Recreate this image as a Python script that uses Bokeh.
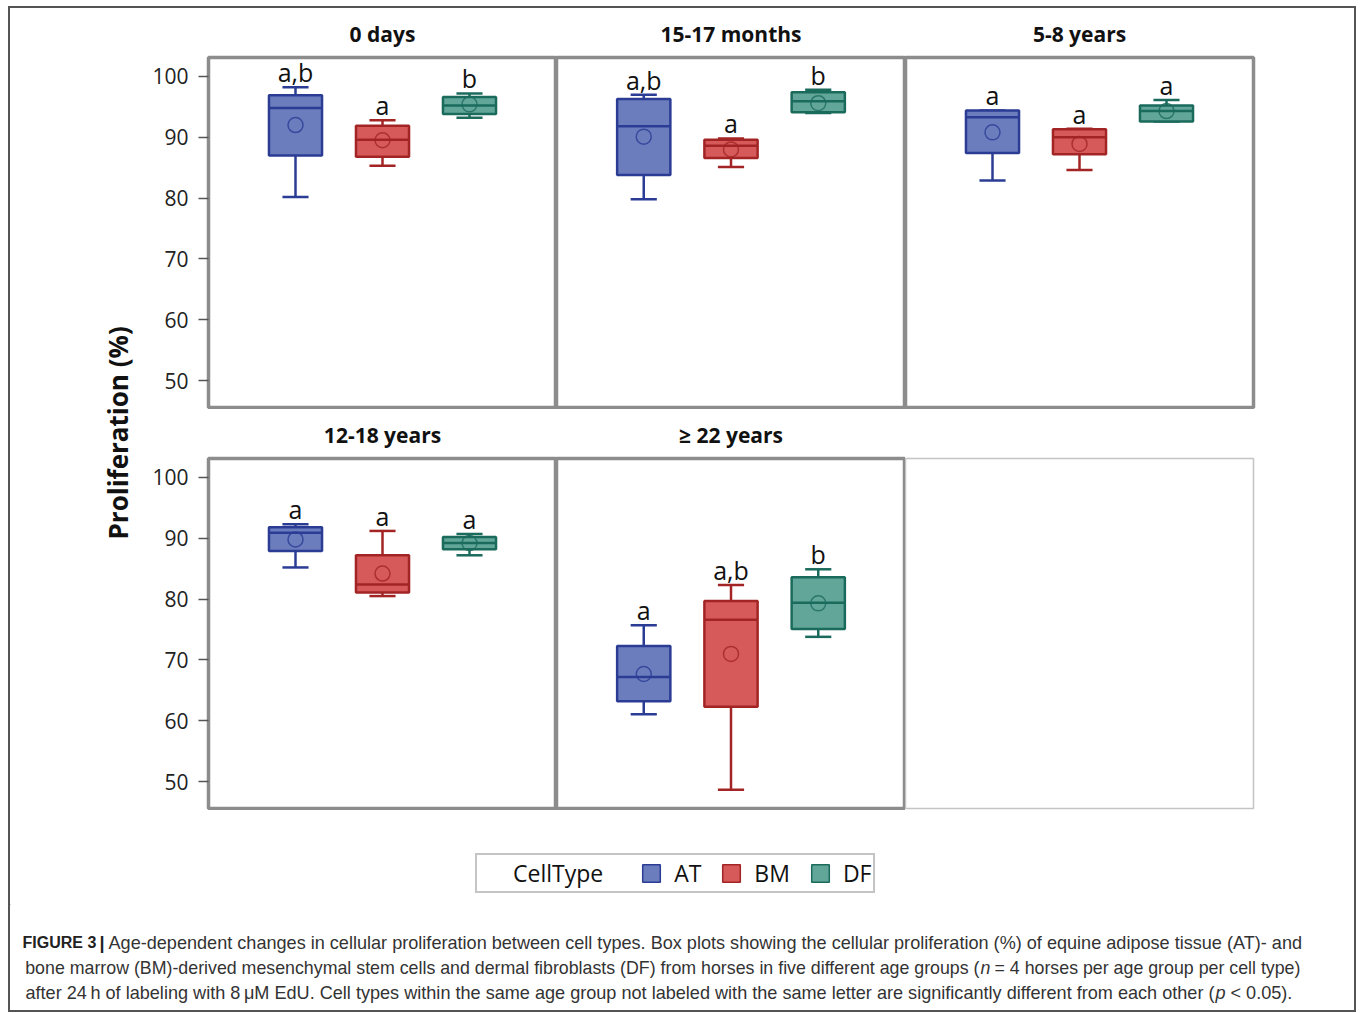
import math
from bokeh.plotting import figure
from bokeh.models import (Range1d, FactorRange, ColumnDataSource, Legend, LegendItem,
                          Title, FixedTicker, LinearAxis)
from bokeh.layouts import row, column
from bokeh.transform import dodge
from bokeh.embed import file_html
from bokeh.resources import INLINE
from bokeh.core.properties import value

# ---------------- data ----------------
CELL_TYPES = ["AT", "BM", "DF"]
AGE_GROUPS = ["0 days", "15-17 months", "5-8 years", "12-18 years", "\u2265 22 years"]
# one row per age group, one value per cell type (AT, BM, DF)
LOWER  = [[80.2, 85.3, 93.2], [79.8, 85.1, 94.0], [82.9, 84.6, 92.6], [85.2, 80.5, 87.2], [61.1, 48.7, 73.8]]
Q1     = [[87.0, 86.8, 93.8], [83.8, 86.6, 94.1], [87.4, 87.2, 92.6], [87.9, 81.1, 88.2], [63.2, 62.3, 75.1]]
MEDIAN = [[94.8, 89.6, 95.2], [91.8, 88.6, 95.9], [93.3, 90.0, 94.3], [90.9, 82.4, 89.2], [67.2, 76.6, 79.4]]
Q3     = [[96.9, 91.9, 96.6], [96.3, 89.6, 97.4], [94.4, 91.3, 95.2], [91.8, 87.2, 90.2], [72.3, 79.7, 83.6]]
UPPER  = [[98.2, 92.8, 97.2], [97.0, 89.8, 97.8], [94.4, 91.4, 96.1], [92.3, 91.2, 90.7], [75.7, 82.3, 84.9]]
MEAN   = [[92.0, 89.5, 95.4], [90.1, 88.0, 95.6], [90.8, 88.9, 94.3], [89.8, 84.2, 89.2], [67.7, 71.0, 79.3]]
LETTERS = [["a,b", "a", "b"], ["a,b", "a", "b"], ["a", "a", "a"], ["a", "a", "a"], ["a", "a,b", "b"]]
Y_TICKS = [50, 60, 70, 80, 90, 100]
Y_MIN, Y_MAX = 45.6, 103.1

FILL = ["#6c7dbe", "#d65a5a", "#62a699"]
LINE = ["#2b3c95", "#a32424", "#1b6b5d"]

FONT = "Open Sans"
FRAME_COLOR = "#8c8c8c"
BOX_W = 0.61
CAP_W = 0.3


def make_panel(idx, frame_w, frame_h, b_left, b_right, b_top, with_axis):
    w = frame_w + b_left + b_right
    h = frame_h + b_top + 2
    xr = FactorRange(factors=CELL_TYPES, range_padding=0.5, range_padding_units="absolute")
    p = figure(width=w, height=h, x_range=xr, y_range=Range1d(Y_MIN, Y_MAX),
               x_axis_location=None, y_axis_location=None,
               output_backend="svg", toolbar_location=None,
               min_border_left=b_left, min_border_right=b_right,
               min_border_top=b_top, min_border_bottom=2)
    p.grid.visible = False
    p.background_fill_color = "white"
    p.border_fill_color = "white"
    if idx is None:
        p.outline_line_color = "#c4c4c4"
        p.outline_line_width = 1.5
    else:
        p.outline_line_color = FRAME_COLOR
        p.outline_line_width = 3.5
    if with_axis:
        ax = LinearAxis(ticker=FixedTicker(ticks=Y_TICKS, minor_ticks=[]),
                        major_tick_out=10, major_tick_in=0,
                        minor_tick_out=0, minor_tick_in=0,
                        axis_line_color=None,
                        major_tick_line_color="#555", major_tick_line_width=1.5,
                        major_label_text_font=FONT,
                        major_label_text_font_size="21px",
                        major_label_text_color="#222",
                        major_label_standoff=10)
        p.add_layout(ax, "left")
    if idx is None:
        return p

    p.title = Title(text=AGE_GROUPS[idx], align="center", text_font=FONT,
                    text_font_size="21px", text_font_style="bold",
                    text_color="#111", standoff=19)
    src = ColumnDataSource(dict(cat=CELL_TYPES, lower=LOWER[idx], q1=Q1[idx],
                                med=MEDIAN[idx], q3=Q3[idx], upper=UPPER[idx],
                                mean=MEAN[idx], letter=LETTERS[idx],
                                fill=FILL, line=LINE))
    lw = 2.5
    p.segment(x0="cat", y0="q3", x1="cat", y1="upper", line_color="line",
              line_width=lw, source=src)
    p.segment(x0="cat", y0="q1", x1="cat", y1="lower", line_color="line",
              line_width=lw, source=src)
    for col in ("upper", "lower"):
        p.segment(x0=dodge("cat", -CAP_W / 2, range=xr), y0=col,
                  x1=dodge("cat", CAP_W / 2, range=xr), y1=col,
                  line_color="line", line_width=lw, source=src)
    p.vbar(x="cat", width=BOX_W, bottom="q1", top="q3", fill_color="fill",
           line_color="line", line_width=lw, source=src)
    p.segment(x0=dodge("cat", -BOX_W / 2, range=xr), y0="med",
              x1=dodge("cat", BOX_W / 2, range=xr), y1="med",
              line_color="line", line_width=lw, source=src)
    p.scatter(x="cat", y="mean", marker="circle", size=15, fill_alpha=0,
              line_color="line", line_width=1.5, line_alpha=0.8, source=src)
    p.text(x="cat", y="upper", text="letter", text_align="center",
           text_baseline="middle", y_offset=-15, text_font=value(FONT),
           text_font_size="25px", text_color="#111", source=src)
    return p


# top row (frame 351 px high), bottom row (frame 350 px high)
t0 = make_panel(0, 348, 351, 70, 0, 48, True)
t1 = make_panel(1, 349, 351, 0, 0, 48, False)
t2 = make_panel(2, 348, 351, 0, 101, 48, False)
b0 = make_panel(3, 348, 350, 70, 0, 49, True)
b1 = make_panel(4, 349, 350, 0, 0, 49, False)
b2 = make_panel(None, 348, 350, 0, 101, 49, False)

# y-axis label spanning both rows
yl = figure(width=128, height=802, x_range=Range1d(0, 128), y_range=Range1d(802, 0),
            x_axis_location=None, y_axis_location=None, output_backend="svg",
            toolbar_location=None, min_border=0)
yl.grid.visible = False
yl.outline_line_color = None
yl.text(x=[107], y=[421], text=["Proliferation  (%)"], angle=math.pi / 2,
        text_align="center", text_baseline="middle", text_font=value(FONT),
        text_font_size="26px", text_font_style="bold", text_color="#111")

# legend
lg = figure(width=1344, height=95, x_range=Range1d(0, 1), y_range=Range1d(0, 1),
            x_axis_location=None, y_axis_location=None, output_backend="svg",
            toolbar_location=None, min_border=0)
lg.grid.visible = False
lg.outline_line_color = None
rends = []
for f, l in zip(FILL, LINE):
    # keys only: their single bar lies outside the (0, 1) ranges of this strip
    rends.append(lg.vbar(x=[-5], top=[-5], bottom=[-6], width=0.1, fill_color=f,
                         line_color=l, line_width=1.5))
blank = lg.vbar(x=[-5], top=[-5], bottom=[-6], width=0.1, fill_alpha=0, line_alpha=0)
items = [LegendItem(label="CellType   ", renderers=[blank])]
items += [LegendItem(label=ct, renderers=[r]) for ct, r in zip(CELL_TYPES, rends)]
leg = Legend(items=items, orientation="horizontal", location=(465, 12),
             glyph_width=22, glyph_height=22, label_standoff=12, spacing=19,
             padding=2, margin=0, label_text_font=FONT, label_text_font_size="23px",
             label_text_color="#111",
             border_line_color="#8a8a8a", border_line_width=2.5,
             background_fill_color="white")
lg.add_layout(leg)

# caption
cap = figure(width=1344, height=105, x_range=Range1d(0, 1344), y_range=Range1d(105, 0),
             x_axis_location=None, y_axis_location=None, output_backend="svg",
             toolbar_location=None, min_border=0)
cap.grid.visible = False
cap.outline_line_color = None
CAP_FONT = "Liberation Sans"
CAP_COLOR = "#333333"
# (x, y, text, style, align, size)
runs = [
    (12, 37, "FIGURE 3", "bold", "left", "16px"),
    (89, 37, "|", "bold", "left", "18px"),
    (98, 37, "Age-dependent changes in cellular proliferation between cell types. Box plots showing the cellular proliferation (%) of equine adipose tissue (AT)- and", "normal", "left", "18.1px"),
    (969, 62, "bone marrow (BM)-derived mesenchymal stem cells and dermal fibroblasts (DF) from horses in five different age groups (", "normal", "right", "17.8px"),
    (970, 62, "n", "italic", "left", "17.8px"),
    (984, 62, "= 4 horses per age group per cell type)", "normal", "left", "17.8px"),
    (1204, 87, "after 24\u2009h of labeling with 8\u2009\u03bcM EdU. Cell types within the same age group not labeled with the same letter are significantly different from each other (", "normal", "right", "18.1px"),
    (1205, 87, "p", "italic", "left", "18.1px"),
    (1220, 87, "< 0.05).", "normal", "left", "18.1px"),
]
for x, y, t, st, al, sz in runs:
    cap.text(x=[x], y=[y], text=[t], text_align=al, text_baseline="middle",
             text_font=value(CAP_FONT), text_font_size=sz,
             text_font_style=st, text_color="#222" if st == "bold" else CAP_COLOR)

panels = column(row(t0, t1, t2), row(b0, b1, b2))
layout = column(row(yl, panels), lg, cap,
                styles={"border": "2px solid #555", "background-color": "white",
                        "margin": "6px 0px 0px 8px"})

open("out.html", "w").write(file_html(layout, INLINE))
